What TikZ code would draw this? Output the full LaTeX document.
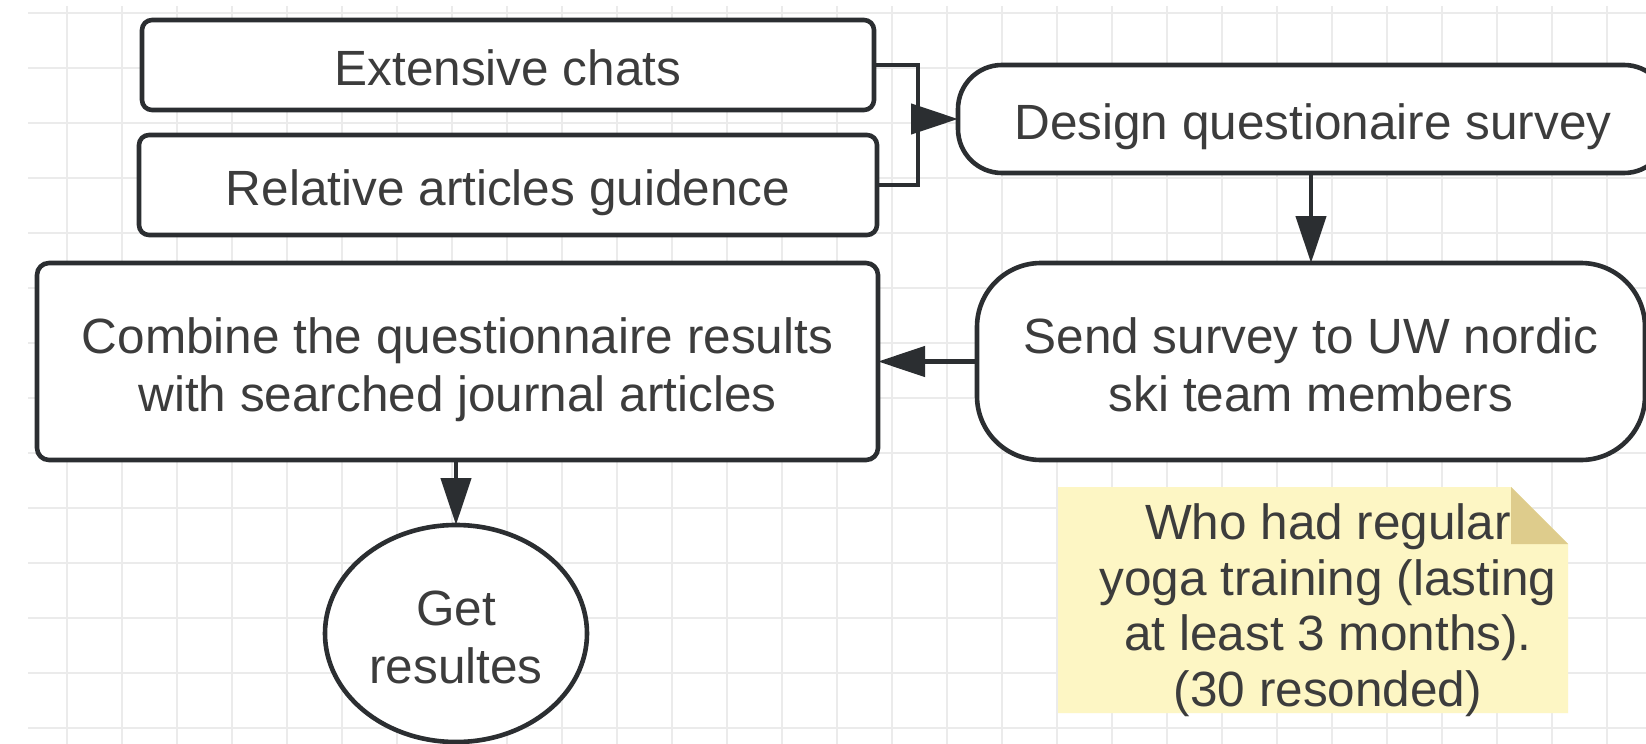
\documentclass[tikz,border=0pt]{standalone}
\usepackage{fontspec}
\setmainfont{Liberation Sans}
\usetikzlibrary{arrows.meta,shapes.geometric}
\definecolor{ink}{HTML}{2B2E31}
\definecolor{txt}{HTML}{3C3C3C}
\definecolor{gridc}{HTML}{EBEBEB}
\definecolor{notefill}{HTML}{FDF6C4}
\definecolor{notefold}{HTML}{DECC8C}
% invisible struts: first line reaches 26.6pt above its baseline, last line 6pt below
\newcommand{\firstlinestrut}{\rule[-6pt]{0pt}{32.6pt}}
\newcommand{\lastlinestrut}{\rule[-6pt]{0pt}{6pt}}
\begin{document}
\begin{tikzpicture}[x=0.5pt,y=-0.5pt,
  lbl/.style={text=txt, align=center, font=\fontsize{24.75pt}{29pt}\selectfont},
  box/.style={lbl, draw=ink, line width=2.3pt, fill=white, inner sep=0pt, outer sep=0pt},
  smallbox/.style={box, rectangle, rounded corners=5pt},
  flow/.style={draw=ink, line width=2.2pt, -{Triangle[length=23.5pt,width=15pt]}},
  wire/.style={draw=ink, line width=2.2pt}
]
% page and background grid
\useasboundingbox (0,0) rectangle (1646,744);
\fill[white] (0,0) rectangle (1646,744);
\foreach \i in {0,...,28}
  \draw[gridc, line width=1pt] ({67+55*\i},6) -- ({67+55*\i},744);
\foreach \j in {0,...,13}
  \draw[gridc, line width=1pt] (28,{13+55*\j}) -- (1646,{13+55*\j});

% input boxes
\node[smallbox, minimum width=366pt, minimum height=45pt] (ext) at (508,65) {\firstlinestrut Extensive chats};
\node[smallbox, minimum width=369pt, minimum height=50pt] (rel) at (508,185) {\firstlinestrut Relative articles guidence};

% main flow
\node[box, rectangle, rounded corners=22pt, minimum width=355pt, minimum height=54pt] (design) at (1313,119)
  {\firstlinestrut Design questionaire survey};
\node[box, rectangle, rounded corners=32pt, minimum width=334pt, minimum height=98.5pt] (send) at (1311,361.5)
  {\firstlinestrut Send survey to UW nordic\\ski team members\lastlinestrut};
\node[box, rectangle, rounded corners=6pt, minimum width=420.5pt, minimum height=98.5pt] (combine) at (457.5,361.5)
  {\firstlinestrut Combine the questionnaire results\\with searched journal articles\lastlinestrut};
\node[box, ellipse, minimum width=131pt, minimum height=108.5pt] (get) at (456,633.5)
  {\firstlinestrut Get\\resultes\lastlinestrut};

% sticky note
\fill[notefill] (1058,487) -- (1511,487) -- (1568,544) -- (1568,713) -- (1058,713) -- cycle;
\fill[notefold] (1511,487) -- (1511,544) -- (1568,544) -- cycle;
\node[lbl, font=\fontsize{24.75pt}{27.8pt}\selectfont, inner sep=0pt] (note) at (1328,602.5)
  {\firstlinestrut Who had regular\\yoga training (lasting\\at least 3 months).\\(30 resonded)\lastlinestrut};

% connectors
\coordinate (jn) at (918,119);
\draw[wire] (ext.east) -| (jn);
\draw[wire] (rel.east) -| (jn);
\draw[flow] (jn) -- (design.west);
\draw[flow] (design.south -| send.north) -- (send.north);
\draw[flow] (send.west) -- (combine.east);
\draw[flow] (combine.south -| get.north) -- (get.north);
\end{tikzpicture}
\end{document}
